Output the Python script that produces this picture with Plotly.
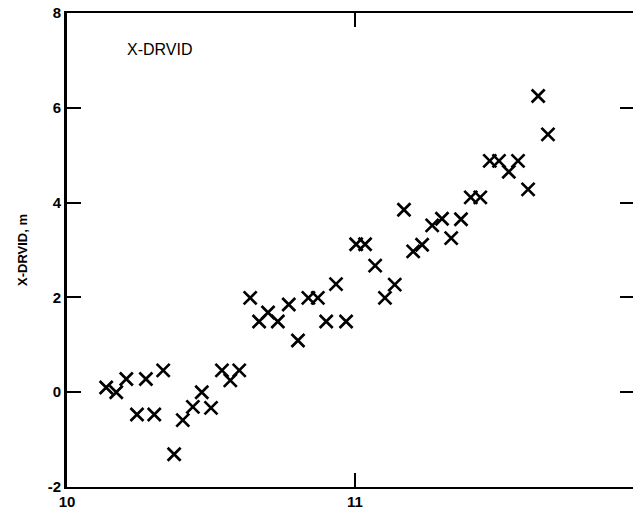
import plotly.graph_objects as go

# Data
x_vals = [10.136, 10.171, 10.206, 10.243, 10.274, 10.303, 10.334, 10.372, 10.402, 10.437,
          10.468, 10.500, 10.538, 10.567, 10.598, 10.636, 10.667, 10.698, 10.732, 10.770,
          10.802, 10.838, 10.871, 10.900, 10.934, 10.969, 11.004, 11.035, 11.070, 11.104,
          11.138, 11.170, 11.202, 11.233, 11.268, 11.302, 11.334, 11.368, 11.402, 11.435,
          11.468, 11.500, 11.534, 11.566, 11.601, 11.636, 11.670]
y_vals = [0.10, 0.00, 0.28, -0.47, 0.28, -0.47, 0.46, -1.31, -0.59, -0.31,
          0.00, -0.33, 0.46, 0.25, 0.46, 1.99, 1.49, 1.68, 1.49, 1.85,
          1.09, 1.99, 1.99, 1.49, 2.28, 1.49, 3.12, 3.12, 2.67, 1.99,
          2.27, 3.85, 2.97, 3.11, 3.52, 3.66, 3.25, 3.65, 4.11, 4.11,
          4.88, 4.88, 4.65, 4.88, 4.28, 6.25, 5.44]

x_ticks = [10, 11, 12]
y_ticks = [-2, 0, 2, 4, 6, 8]
series_label = "X-DRVID"
y_title = "X-DRVID, m"

FAM = "Liberation Sans, Arial, sans-serif"

fig = go.Figure()
fig.add_trace(go.Scatter(
    x=x_vals, y=y_vals, mode="markers",
    marker=dict(symbol="x-thin", size=13, line=dict(width=2.7, color="black"), color="black"),
    showlegend=False, hoverinfo="skip",
))
# invisible trace to activate the right-hand tick axis
fig.add_trace(go.Scatter(x=[x_vals[0]], y=[y_vals[0]], yaxis="y2", mode="markers",
                         marker=dict(opacity=0), showlegend=False, hoverinfo="skip"))

tickfont = dict(family=FAM, size=15, color="black")

fig.update_layout(
    width=633, height=512,
    margin=dict(l=67, r=0, t=13, b=25),
    paper_bgcolor="white", plot_bgcolor="white",
    font=dict(family=FAM, size=14, color="black"),
    xaxis=dict(range=[10, 10 + 566 / 288], tickvals=x_ticks,
               ticktext=["<b>%d</b>" % v for v in x_ticks],
               ticks="inside", ticklen=14, tickwidth=2, tickcolor="black",
               showline=True, linecolor="black", linewidth=2, mirror="ticks",
               showgrid=False, zeroline=False, tickfont=tickfont),
    yaxis=dict(range=[-2, 8], tickvals=y_ticks,
               ticktext=["<b>%d</b>" % v for v in y_ticks],
               ticks="inside", ticklen=14, tickwidth=2, tickcolor="black",
               showline=True, linecolor="black", linewidth=3, mirror=False,
               showgrid=False, zeroline=False,
               title=dict(text="<b>" + y_title + "</b>", standoff=18,
                          font=dict(family=FAM, size=13, color="black")),
               tickfont=tickfont),
    yaxis2=dict(range=[-2, 8], tickvals=y_ticks, overlaying="y", side="right",
                ticks="inside", ticklen=13, tickwidth=2, tickcolor="black",
                showticklabels=False, showline=False, showgrid=False, zeroline=False),
)
fig.add_annotation(text=series_label, x=10.2, y=7.23, xref="x", yref="y",
                   xanchor="left", yanchor="middle", showarrow=False,
                   font=dict(family=FAM, size=16, color="black"))

fig.write_html("out.html", config={"displayModeBar": False},
               post_script="document.body.style.margin='0';document.body.style.overflow='hidden';")
